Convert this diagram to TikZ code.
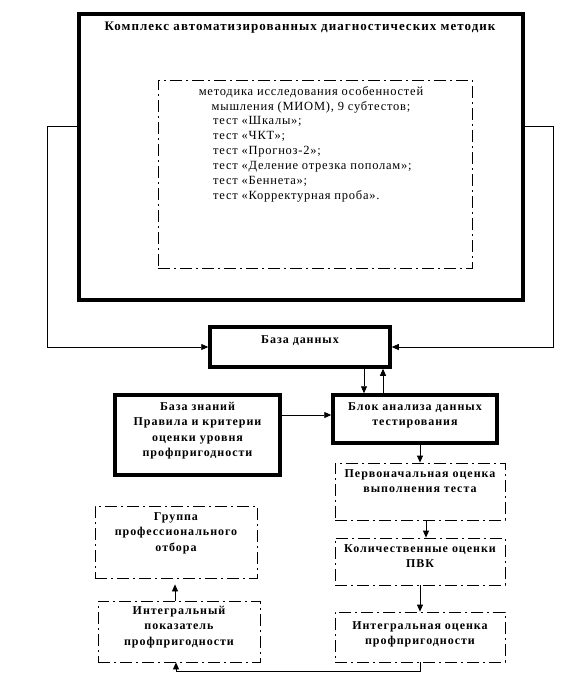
\documentclass[tikz,border=0pt]{standalone}
\usepackage{fontspec}
\setmainfont{Liberation Serif}
\usetikzlibrary{arrows.meta}
\tikzset{
  thickbox/.style={draw, line width=4pt, minimum width=#1, inner sep=0pt},
  dbox/.style={draw, line width=0.8pt, dash pattern=on 12pt off 4pt on 2pt off 4pt, inner sep=0pt},
  conn/.style={draw, line width=0.8pt},
  arr/.style={conn, -{Triangle[length=7pt,width=6pt]}},
  btxt/.style={font=\fontsize{12}{15.5}\selectfont\bfseries\addfontfeature{LetterSpace=8}, align=center, inner sep=0pt},
  ttl/.style={font=\fontsize{13}{16}\selectfont\bfseries\addfontfeature{LetterSpace=8}, inner sep=0pt},
  rtxt/.style={font=\fontsize{12.5}{15}\selectfont\addfontfeature{LetterSpace=6}, inner sep=0pt},
}
\begin{document}
\begin{tikzpicture}[x=1pt,y=-1pt]
\useasboundingbox (0,0) rectangle (585,682);
% outer box
\node[thickbox=444pt, minimum height=286pt] (outer) at (301,157) {};
\node[ttl] (title) at (300,28) {Комплекс автоматизированных диагностических методик};
\node[dbox, minimum width=314pt, minimum height=188pt] (inner) at (315,174) {};
\node[rtxt, align=center, anchor=north] (t1) at (311,86) {методика исследования особенностей\\мышления (МИОМ), 9 субтестов;};
\node[rtxt, align=left, anchor=north west] (t2) at (213,116) {тест «Шкалы»;\\тест «ЧКТ»;\\тест «Прогноз-2»;\\тест «Деление отрезка пополам»;\\тест «Беннета»;\\тест «Корректурная проба».};
% database
\node[thickbox=180pt, minimum height=40pt, line width=3.5pt] (db) at (300,347) {};
\node[btxt] (dbt) at (300,341) {База данных};
% knowledge base
\node[thickbox=165pt, minimum height=80pt, line width=3.5pt] (kb) at (197.5,435) {};
\node[btxt, anchor=north] (kbt) at (197.5,402) {База знаний\\Правила и критерии\\оценки уровня\\профпригодности};
% analysis block
\node[thickbox=164pt, minimum height=48pt, line width=3.5pt] (an) at (415,419) {};
\node[btxt, anchor=north] (ant) at (415,402) {Блок анализа данных\\тестирования};
% right column
\node[dbox, minimum width=170pt, minimum height=57pt] (b1) at (420,491.5) {};
\node[btxt, anchor=north] (b1t) at (420,469) {Первоначальная оценка\\выполнения теста};
\node[dbox, minimum width=170pt, minimum height=47pt] (b2) at (420,561.5) {};
\node[btxt, anchor=north] (b2t) at (420,544) {Количественные оценки\\ПВК};
\node[dbox, minimum width=170pt, minimum height=50pt] (b3) at (420,637) {};
\node[btxt, anchor=north] (b3t) at (420,621) {Интегральная оценка\\профпригодности};
% left column
\node[dbox, minimum width=162pt, minimum height=72pt] (grp) at (176,542) {};
\node[btxt, anchor=north] (grpt) at (176,512) {Группа\\профессионального\\отбора};
\node[dbox, minimum width=162pt, minimum height=61pt] (int) at (179,631.5) {};
\node[btxt, anchor=north] (intt) at (179,606) {Интегральный\\показатель\\профпригодности};
% connectors
\coordinate (lt) at (47,126);
\coordinate (rt) at (553,126);
\draw[arr] (outer.west |- lt) -- (lt) |- (db.west);
\draw[arr] (outer.east |- rt) -- (rt) |- (db.east);
\coordinate (dn) at (364,0);
\coordinate (up) at (383,0);
\draw[arr] (db.south -| dn) -- (an.north -| dn);
\draw[arr] (an.north -| up) -- (db.south -| up);
\coordinate (kbr) at (0,415);
\draw[arr] (kb.east |- kbr) -- (an.west |- kbr);
\draw[arr] (an.south -| b1.north) -- (b1.north);
\coordinate (c12) at (426,0);
\draw[arr] (b1.south -| c12) -- (b2.north -| c12);
\draw[arr] (b2.south) -- (b3.north);
\coordinate (bot) at (176,671);
\draw[arr] (b3.south) |- (bot) -- (int.south -| bot);
\coordinate (c45) at (175,0);
\draw[arr, shorten >=6pt] (int.north -| c45) -- (grp.south -| c45);
\end{tikzpicture}
\end{document}
